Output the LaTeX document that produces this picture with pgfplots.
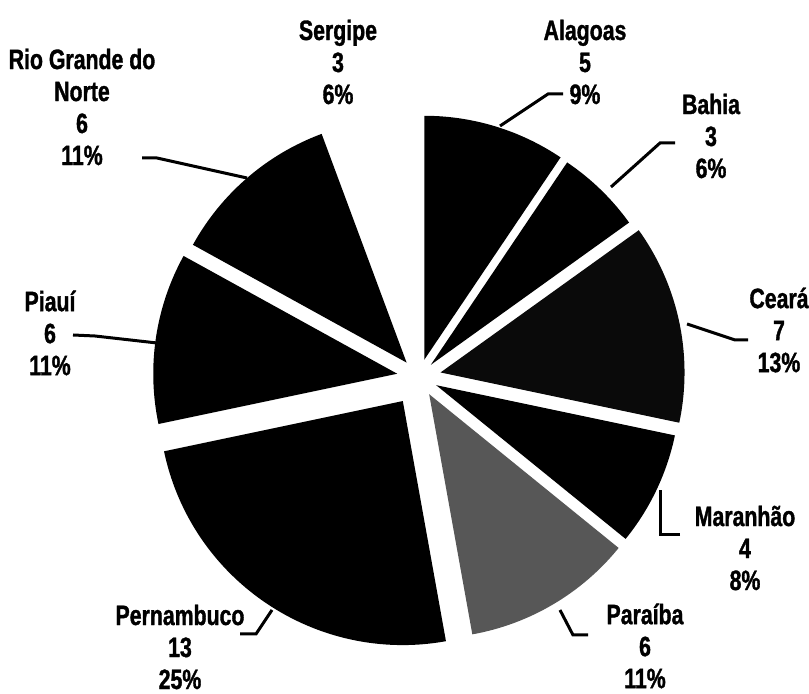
\documentclass[border=0pt]{standalone}
\usepackage{pgfplots}
\pgfplotsset{compat=1.18}
\usepackage{fontspec}
\setmainfont{Liberation Sans}[FakeStretch=0.76, BoldFeatures={FakeBold=1.2}]
% pie geometry in image pixels (1px = 0.5pt)
\def\cx{419}\def\cy{377}\def\R{122pt}\def\tot{53}
\newcommand{\slice}[4]{% #1 cumulative count before, #2 count, #3 fill, #4 explode (px)
  \pgfmathsetmacro\aA{90-(360/\tot)*#1}%
  \pgfmathsetmacro\aB{90-(360/\tot)*(#1+#2)}%
  \pgfmathsetmacro\aM{(\aA+\aB)/2}%
  \pgfmathsetmacro\tx{\cx+#4*cos(\aM)}%
  \pgfmathsetmacro\ty{\cy-#4*sin(\aM)}%
  \edef\doslice{\noexpand\fill[#3] (axis cs:\tx,\ty) -- ++(\aA:\R) arc[start angle=\aA, end angle=\aB, radius=\R] -- cycle;}%
  \doslice
}
\tikzset{lbl/.style={font=\bfseries\fontsize{14}{16}\selectfont, align=center, inner sep=0pt}}
\begin{document}
\begin{tikzpicture}
\begin{axis}[x=0.5pt, y=0.5pt, xmin=0, xmax=809, ymin=0, ymax=694, y dir=reverse,
  hide axis, clip=false]
\path (axis cs:0,0) rectangle (axis cs:809,694);
% counts (clockwise from 12 o'clock): Alagoas 5, Bahia 3, Ceara 7, Maranhao 4,
% Paraiba 6, Pernambuco 13, Piaui 6, Rio Grande do Norte 6, Sergipe 3
\slice{0}{5}{black}{18}
\slice{5}{3}{black}{17}
\slice{8}{7}{black!96}{22}
\slice{15}{4}{black}{19}
\slice{19}{6}{black!66}{20}
\slice{25}{13}{black}{29}
\slice{38}{6}{black}{22}
\slice{44}{6}{black}{19}
\slice{50}{3}{white}{20}
% leader lines
\begin{scope}[line width=1.5pt]
\draw (axis cs:563,94) -- (axis cs:548,94) -- (axis cs:500,126);
\draw (axis cs:675,143) -- (axis cs:660,143) -- (axis cs:611,187);
\draw (axis cs:748,340) -- (axis cs:735,340) -- (axis cs:687,324);
\draw (axis cs:680,535) -- (axis cs:660,535) -- (axis cs:660,490);
\draw (axis cs:588,635) -- (axis cs:573,635) -- (axis cs:560,610);
\draw (axis cs:240,634) -- (axis cs:256,634) -- (axis cs:272,610);
\draw (axis cs:73,335) -- (axis cs:95,336) -- (axis cs:157,343);
\draw (axis cs:142,158) -- (axis cs:157,158) -- (axis cs:247,178);
\end{scope}
% labels
\node[lbl] at (axis cs:338,62) {Sergipe\\3\\6\%};
\node[lbl] at (axis cs:585,62) {Alagoas\\5\\9\%};
\node[lbl] at (axis cs:711,136) {Bahia\\3\\6\%};
\node[lbl] at (axis cs:779,330) {Ceará\\7\\13\%};
\node[lbl] at (axis cs:745,548) {Maranhão\\4\\8\%};
\node[lbl] at (axis cs:645,646) {Paraíba\\6\\11\%};
\node[lbl] at (axis cs:180,647) {Pernambuco\\13\\25\%};
\node[lbl] at (axis cs:50,333) {Piauí\\6\\11\%};
\node[lbl] at (axis cs:82,107) {Rio Grande do\\Norte\\6\\11\%};
\end{axis}
\end{tikzpicture}
\end{document}
